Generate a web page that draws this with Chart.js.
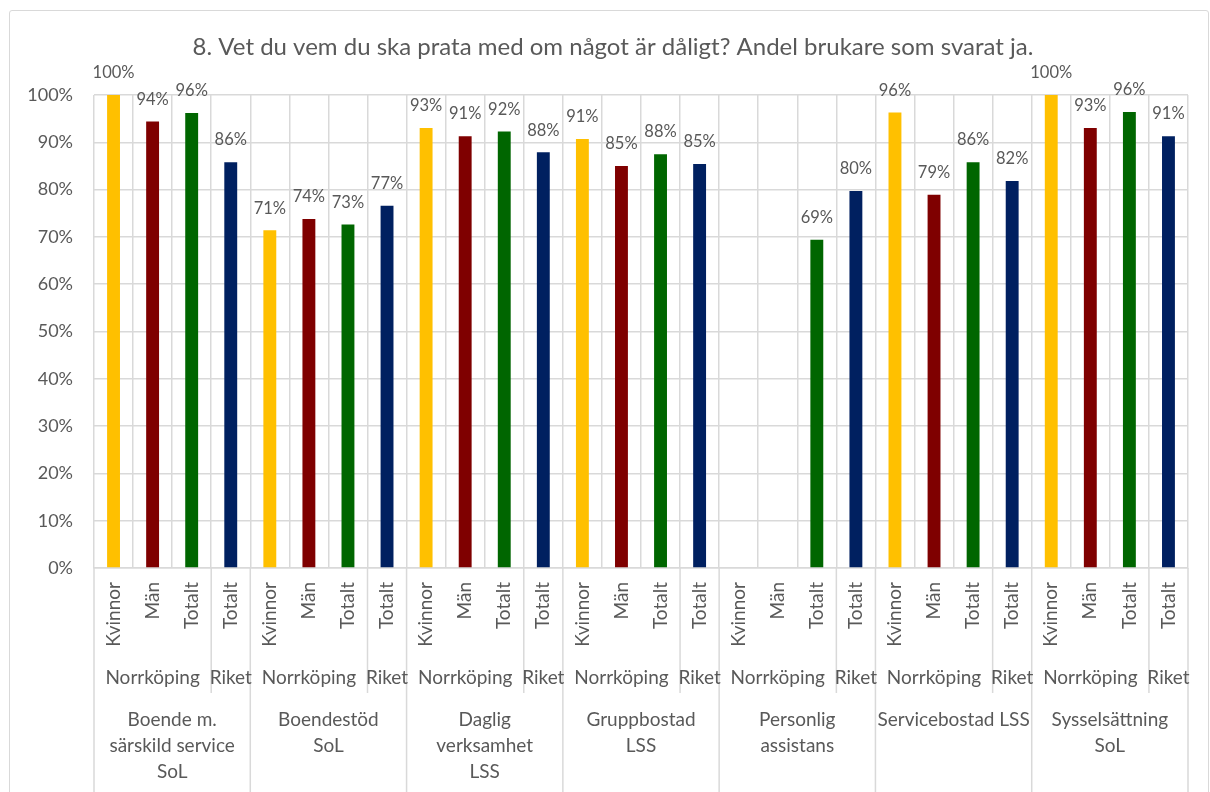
<!DOCTYPE html>
<html>
<head>
<meta charset="utf-8">
<script src="https://cdn.jsdelivr.net/npm/chart.js@4.4.1/dist/chart.umd.min.js"></script>
<style>
  body { margin: 0; background: #fff; }
  #wrap { position: relative; width: 1210px; height: 792px; overflow: hidden; }
  #frame { position: absolute; left: 9px; top: 10px; width: 1198px; height: 800px; border: 1px solid #d9d9d9; border-radius: 3px; }
  #chart { position: absolute; left: 0; top: 0; }
</style>
</head>
<body>
<div id="wrap">
  <div id="frame"></div>
  <canvas id="chart" width="1210" height="792"></canvas>
</div>
<script>
const titleText = '8. Vet du vem du ska prata med om något är dåligt? Andel brukare som svarat ja.';

const groups = [
  ['Boende m.', 'särskild service', 'SoL'],
  ['Boendestöd', 'SoL'],
  ['Daglig', 'verksamhet', 'LSS'],
  ['Gruppbostad', 'LSS'],
  ['Personlig', 'assistans'],
  ['Servicebostad LSS'],
  ['Sysselsättning', 'SoL']
];
const subLabels = ['Kvinnor', 'Män', 'Totalt', 'Totalt'];
const regions = ['Norrköping', 'Riket'];

// values per group, percent
const kvinnor = [100, 71.4, 93.0, 90.7, null, 96.3, 100];
const man     = [94.4, 73.8, 91.3, 85.0, null, 78.9, 93.0];
const totalt  = [96.2, 72.6, 92.3, 87.5, 69.4, 85.8, 96.4];
const riket   = [85.8, 76.6, 87.9, 85.4, 79.7, 81.8, 91.3];

const barColors = ['#FFC000', '#7F0000', '#006600', '#002060'];
const textColor = '#595959';
const gridColor = '#d9d9d9';
const fontFamily = 'Lato, "Noto Sans", sans-serif';

const labels = [];
const values = [];
const colors = [];
groups.forEach((g, gi) => {
  [kvinnor, man, totalt, riket].forEach((series, si) => {
    labels.push(subLabels[si]);
    values.push(series[gi]);
    colors.push(barColors[si]);
  });
});

const tierPlugin = {
  id: 'tiers',
  afterDraw(chart) {
    const ctx = chart.ctx;
    const x = chart.scales.x;
    const n = labels.length;
    const px = i => x.getPixelForValue(i);
    const edge = i => i === 0 ? x.left : (i === n ? x.right : (px(i - 1) + px(i)) / 2);
    const axisY = x.top;
    const bottom = chart.height;

    ctx.save();
    ctx.fillStyle = textColor;
    ctx.textAlign = 'center';
    ctx.textBaseline = 'middle';

    // title
    ctx.font = '24px ' + fontFamily;
    ctx.fillText(titleText, 613, 47);

    // data labels
    const meta = chart.getDatasetMeta(0);
    ctx.font = '16.5px ' + fontFamily;
    meta.data.forEach((bar, i) => {
      if (values[i] == null) return;
      ctx.fillText(Math.round(values[i]) + '%', bar.x, bar.y - 22);
    });

    // separators
    ctx.strokeStyle = gridColor;
    ctx.lineWidth = 1.5;
    for (let g = 0; g <= groups.length; g++) {
      const ex = edge(g * 4);
      ctx.beginPath(); ctx.moveTo(ex, axisY); ctx.lineTo(ex, bottom); ctx.stroke();
    }
    for (let g = 0; g < groups.length; g++) {
      const ex = edge(g * 4 + 3);
      ctx.beginPath(); ctx.moveTo(ex, axisY); ctx.lineTo(ex, axisY + 125); ctx.stroke();
    }

    // region labels and group labels
    ctx.font = '19px ' + fontFamily;
    groups.forEach((g, gi) => {
      const a = gi * 4;
      ctx.fillText(regions[0], (edge(a) + edge(a + 3)) / 2, axisY + 110);
      ctx.fillText(regions[1], px(a + 3), axisY + 110);
      const cx = (edge(a) + edge(a + 4)) / 2;
      g.forEach((line, li) => ctx.fillText(line, cx, axisY + 152 + li * 26));
    });
    ctx.restore();
  }
};

new Chart(document.getElementById('chart'), {
  type: 'bar',
  data: {
    labels: labels,
    datasets: [{
      data: values,
      backgroundColor: colors,
      categoryPercentage: 1,
      barPercentage: 0.33
    }]
  },
  options: {
    responsive: false,
    animation: false,
    layout: { padding: { left: 0, right: 22, top: 95, bottom: 0 } },
    plugins: {
      legend: { display: false },
      tooltip: { enabled: false },
      title: { display: false }
    },
    scales: {
      x: {
        afterFit(scale) { scale.height = 224; },
        grid: { color: gridColor, lineWidth: 1.5, offset: true, drawTicks: false },
        border: { color: gridColor, width: 1.5 },
        ticks: {
          color: textColor,
          font: { family: fontFamily, size: 19 },
          minRotation: 90,
          maxRotation: 90,
          autoSkip: false,
          padding: 14
        }
      },
      y: {
        min: 0,
        max: 100,
        afterFit(scale) { scale.width = 94; },
        grid: { color: gridColor, lineWidth: 1.5, drawTicks: false },
        border: { display: false },
        ticks: {
          stepSize: 10,
          color: textColor,
          font: { family: fontFamily, size: 18 },
          padding: 21,
          callback: v => v + '%'
        }
      }
    }
  },
  plugins: [tierPlugin]
});
</script>
</body>
</html>
